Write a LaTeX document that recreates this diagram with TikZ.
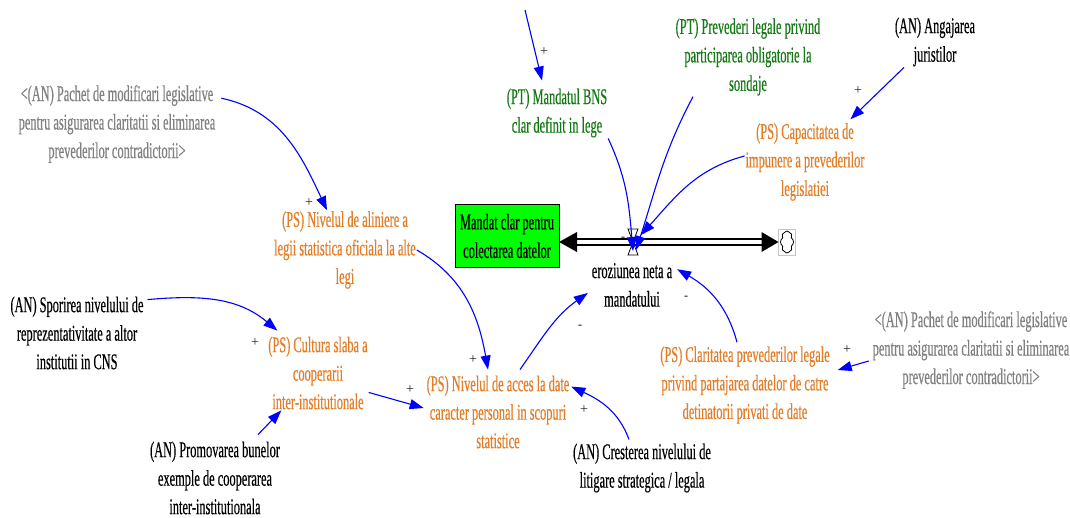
\documentclass[tikz,border=0pt]{standalone}
\usepackage{fontspec}
\setmainfont{Liberation Serif}[FakeStretch=0.55, FakeBold=0.4]
\newfontfamily\signfont{Liberation Serif}
\usetikzlibrary{arrows.meta,shapes.symbols}
\definecolor{linkblue}{RGB}{0,0,255}
\definecolor{psorange}{RGB}{226,125,40}
\definecolor{ptgreen}{RGB}{20,120,20}
\definecolor{shadowgray}{RGB}{128,128,128}
\definecolor{stockgreen}{RGB}{0,255,0}

\begin{document}
\begin{tikzpicture}[x=1pt,y=-1pt,
  every node/.style={inner sep=0pt, outer sep=1pt},
  lbl/.style={align=center, font=\fontsize{22.5}{28.5}\selectfont},
  ps/.style={lbl, text=psorange},
  pt/.style={lbl, text=ptgreen},
  an/.style={lbl, text=black},
  shadow/.style={lbl, text=shadowgray},
  stock/.style={lbl, draw=black, line width=1pt, fill=stockgreen, outer sep=0pt,
    minimum width=104pt, minimum height=63pt},
  link/.style={draw=linkblue, line width=1.1pt, -{Triangle[length=14pt,width=10pt]}},
  pipe/.style={line width=1.2pt, double distance=4.8pt},
  plus/.style={font=\signfont\fontsize{14}{14}\selectfont, text=black!85},
  minus/.style={font=\signfont\fontsize{12}{12}\selectfont, text=black}]

\useasboundingbox (0,0) rectangle (1070,518);

% ---- variables ----
\node[pt] (bns) at (557,113) {(PT) Mandatul BNS\\clar definit in lege};
\node[pt] (prev) at (748,57) {(PT) Prevederi legale privind\\participarea obligatorie la\\sondaje};
\node[an] (ang) at (935,42) {(AN) Angajarea\\juristilor};
\node[ps] (cap) at (805,162) {(PS) Capacitatea de\\impunere a prevederilor\\legislatiei};
\node[shadow] (pachetL) at (117,124) {<(AN) Pachet de modificari legislative\\pentru asigurarea claritatii si eliminarea\\prevederilor contradictorii>};
\node[ps] (align) at (345,250) {(PS) Nivelul de aliniere a\\legii statistica oficiala la alte\\legi};
\node[an] (spor) at (77,333) {(AN) Sporirea nivelului de\\reprezentativitate a altor\\institutii in CNS};
\node[ps] (cult) at (318,373) {(PS) Cultura slaba a\\cooperarii\\inter-institutionale};
\node[ps] (acces) at (498,412) {(PS) Nivelul de acces la date\\caracter personal in scopuri\\statistice};
\node[an] (cres) at (642,468) {(AN) Cresterea nivelului de\\litigare strategica / legala};
\node[an] (promo) at (215,478) {(AN) Promovarea bunelor\\exemple de cooperarea\\inter-institutionala};
\node[ps] (clar) at (745,385) {(PS) Claritatea prevederilor legale\\privind partajarea datelor de catre\\detinatorii privati de date};
\node[shadow] (pachetR) at (971,350) {<(AN) Pachet de modificari legislative\\pentru asigurarea claritatii si eliminarea\\prevederilor contradictorii>};

% ---- stock, flow and cloud ----
\node[stock] (stock) at (507,236) {Mandat clar pentru\\colectarea datelor};
\coordinate (valve) at (633,242);
\node[draw=gray!45, line width=0.4pt, minimum width=17pt, minimum height=26pt, outer sep=0pt] (cloud) at (787,242) {};
\node[cloud, cloud puffs=8, cloud puff arc=110, aspect=0.6, draw, line width=0.8pt,
  minimum width=13pt, minimum height=22pt] (puff) at (cloud) {};
\node[an] (eroz) at (632,285) {eroziunea neta a\\mandatului};

\coordinate (pipeL) at (stock.east |- valve);
\coordinate (pipeR) at (cloud.west |- valve);
\draw[pipe] ([shift={(17,0)}]pipeL) -- ([shift={(-15,0)}]pipeR);
\fill (pipeL) -- ++(18,-10) -- ++(0,20) -- cycle;
\fill (pipeR) -- ++(-17,-10) -- ++(0,20) -- cycle;
\draw[fill=white, line width=0.8pt]
  ([shift={(-5,-13)}]valve) -- ([shift={(5,-13)}]valve) --
  ([shift={(-5,13)}]valve) -- ([shift={(5,13)}]valve) -- cycle;

% ---- causal links ----
\coordinate (topsrc) at (525,10);
\draw[link] (topsrc) -- ([shift={(-15,-7)}]bns.north);
\draw[link] (bns.south east) to[out=-65,in=95] ([shift={(0,9)}]valve);
\draw[link] ([shift={(-55,0)}]prev.south) to[out=-118,in=72] ([shift={(3,8)}]valve);
\draw[link] ([shift={(0,-6)}]cap.west) to[out=195,in=48] ([shift={(8,-7)}]valve);
\draw[link] ([shift={(10,0)}]ang.south west) -- ([shift={(-15,-3)}]cap.north east);
\draw[link] ([shift={(5,14)}]pachetL.north east) to[out=-12,in=115] ([shift={(-18,0)}]align.north);
\draw[link] (align.east) to[out=-30,in=100] ([shift={(-10,-5)}]acces.north);
\draw[link] ([shift={(3,4)}]spor.north east) to[out=5,in=140] ([shift={(10,-5)}]cult.north west);
\draw[link] ([shift={(43,-6)}]promo.north) -- ([shift={(14,0)}]cult.south west);
\draw[link] ([shift={(0,-18)}]cult.south east) -- ([shift={(-2,-4)}]acces.west);
\draw[link] ([shift={(22,-5)}]acces.north) to[out=55,in=215] ([shift={(-3,8)}]eroz.west);
\draw[link] ([shift={(-13,-3)}]cres.north) to[out=110,in=-25] ([shift={(1,12)}]acces.north east);
\draw[link] ([shift={(-8,-3)}]clar.north) to[out=105,in=-30] ([shift={(4,7)}]eroz.north east);
\draw[link] ([shift={(-3,11)}]pachetR.west) -- ([shift={(7,-15)}]clar.east);

% ---- polarity marks ----
\node[plus] (s1) at (544,52) {+};
\node[plus] (s2) at (858,91) {+};
\node[plus] (s3) at (309,203) {+};
\node[plus] (s4) at (473,360) {+};
\node[plus] (s5) at (255,343) {+};
\node[plus] (s6) at (410,390) {+};
\node[plus] (s7) at (584,410) {+};
\node[plus] (s8) at (847,350) {+};
\node[minus] (m1) at (623,239) {-};
\node[minus] (m2) at (651,247) {-};
\node[minus] (m3) at (580,327) {-};
\node[minus] (m4) at (686,298) {-};
\end{tikzpicture}
\end{document}
